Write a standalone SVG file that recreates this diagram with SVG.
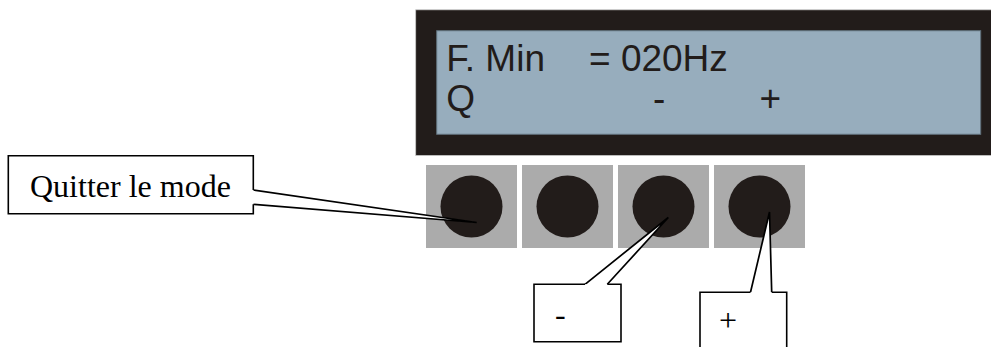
<svg xmlns="http://www.w3.org/2000/svg" width="991" height="347" viewBox="0 0 991 347">
  <style>
    .bezel { fill: #221c1a; stroke: #c8c8c8; stroke-width: 0.8; }
    .screen { fill: #97adbd; stroke: #5f6f7a; stroke-width: 1; }
    .lcd { font-family: "Liberation Sans", Arial, sans-serif; font-size: 37px; fill: #221c1a; }
    .key { fill: #ababab; }
    .knob { fill: #221c1a; }
    .box { fill: #ffffff; stroke: #000000; stroke-width: 1.6; stroke-linejoin: miter; }
    .label { font-family: "Liberation Serif", "Times New Roman", serif; font-size: 32px; fill: #000000; }
    .lead { fill: #ffffff; stroke: #000000; stroke-width: 1.7; stroke-linejoin: miter; }
  </style>

  <!-- display -->
  <g id="display">
    <rect class="bezel" x="415.7" y="9.8" width="580" height="145.7"/>
    <rect class="screen" x="436.7" y="30.7" width="544" height="103.6"/>
    <text class="lcd" x="446.3" y="70.5">F. Min</text>
    <text class="lcd" x="589" y="70.5">= 020Hz</text>
    <text class="lcd" x="446.3" y="110.5">Q</text>
    <text class="lcd" x="653" y="110.5">-</text>
    <text class="lcd" x="759.6" y="110.5">+</text>
  </g>

  <!-- keypad -->
  <g id="key-q">
    <rect class="key" x="426" y="165" width="91" height="83"/>
    <circle class="knob" cx="471.5" cy="206.5" r="31"/>
  </g>
  <g id="key-2">
    <rect class="key" x="522" y="165" width="91" height="83"/>
    <circle class="knob" cx="567.5" cy="206.5" r="31"/>
  </g>
  <g id="key-minus">
    <rect class="key" x="618" y="165" width="91" height="83"/>
    <circle class="knob" cx="663.5" cy="206.5" r="31"/>
  </g>
  <g id="key-plus">
    <rect class="key" x="714" y="165" width="91" height="83"/>
    <circle class="knob" cx="759.5" cy="206.5" r="31"/>
  </g>

  <!-- callout leads -->
  <g id="connectors">
    <path class="lead" d="M253.3,190 L476.7,222.5 L253.3,204.3"/>
    <path class="lead" d="M585,284.3 L668.3,217.5 L607.3,284.3"/>
    <path class="lead" d="M750.5,292.3 L769.5,212 L771.7,292.3"/>
  </g>

  <!-- callout boxes -->
  <g id="callout-quit">
    <path class="box" d="M253.3,190 V155.7 H8.3 V213.8 H253.3 V204.3"/>
    <text class="label" x="30" y="197">Quitter le mode</text>
  </g>
  <g id="callout-minus">
    <path class="box" d="M585,284.3 H534 V341.7 H621 V284.3 H607.3"/>
    <text class="label" x="555" y="325">-</text>
  </g>
  <g id="callout-plus">
    <path class="box" d="M750.5,292.3 H700 V352 H786.7 V292.3 H771.7"/>
    <text class="label" x="719" y="331">+</text>
  </g>
</svg>
